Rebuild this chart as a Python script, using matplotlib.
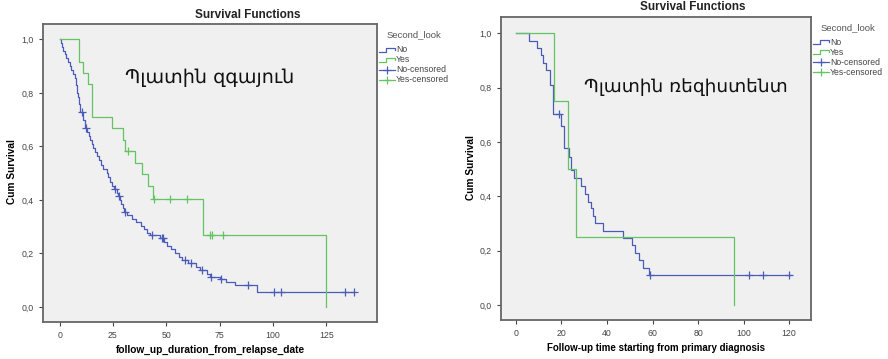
import matplotlib
matplotlib.use("Agg")
from matplotlib import pyplot as plt
from matplotlib.lines import Line2D
import numpy as np

plt.rcParams['font.family'] = ['Liberation Sans', 'DejaVu Sans']

BLUE = '#4a5bb8'
GREEN = '#62c462'
W, H = 888, 359

# left panel: platinum sensitive
left_no_t = [0, 0.5, 1, 1.8, 2.5, 3, 4, 4.8, 5.5, 6.3, 7, 7.5, 8, 8.6, 9.2, 9.6,
             11, 11.9, 12.8, 13.6, 14.2, 15, 15.8, 16.6, 17.5, 18.4, 19.3, 20.5,
             22, 22.8, 23.6, 24.5, 25.4, 27, 27.5, 28.5, 29, 29.5, 30, 31.5, 34,
             36, 38, 39.5, 41, 42.5, 47, 49, 50.5, 52, 54, 56, 57.5, 60, 64, 66,
             69, 70.3, 75, 78, 82, 92.5]
left_no_s = [1.0, 0.986, 0.972, 0.958, 0.944, 0.93, 0.915, 0.9, 0.886, 0.872,
             0.857, 0.83, 0.80, 0.786, 0.757, 0.728, 0.70, 0.67, 0.655, 0.64,
             0.625, 0.61, 0.594, 0.579, 0.563, 0.548, 0.532, 0.516, 0.50, 0.484,
             0.468, 0.452, 0.44, 0.427, 0.413, 0.40, 0.385, 0.37, 0.356, 0.342,
             0.33, 0.317, 0.303, 0.29, 0.277, 0.27, 0.256, 0.242, 0.228, 0.215,
             0.20, 0.188, 0.176, 0.163, 0.15, 0.138, 0.124, 0.111, 0.103, 0.092,
             0.082, 0.057]
left_no_end = 138.1
left_no_cens = [10.3, 12.3, 25.9, 27.9, 30.5, 43.1, 47.8, 48.5, 58.7, 61.4,
                66.6, 71, 75.5, 88.4, 100.5, 103.7, 133.8, 138.1]

left_yes_t = [0, 9.2, 10.8, 13.4, 15.1, 24.4, 29.8, 30.5, 35.3, 38.4, 41.5,
              44.0, 67.3, 124.7]
left_yes_s = [1.0, 0.917, 0.875, 0.833, 0.708, 0.667, 0.625, 0.583, 0.539,
              0.496, 0.452, 0.402, 0.268, 0.0]
left_yes_cens = [32.2, 44.2, 51.7, 59.5, 70.5, 71.2, 76.4]

# right panel: platinum resistant
right_no_t = [0, 5.9, 9.3, 10.8, 12.0, 13.2, 14.9, 16.4, 20, 21.1, 23.4, 24.4,
              25.6, 28.4, 30.3, 31.7, 32.8, 33.7, 34.7, 38.3, 47.1, 51.2, 52.2,
              54.1, 55.6, 58.5]
right_no_s = [1.0, 0.973, 0.946, 0.919, 0.892, 0.865, 0.811, 0.703, 0.66,
              0.576, 0.545, 0.496, 0.466, 0.437, 0.408, 0.38, 0.355, 0.328,
              0.30, 0.273, 0.246, 0.219, 0.192, 0.164, 0.137, 0.109]
right_no_end = 121
right_no_cens = [19, 58.8, 102.4, 108.3, 120]

right_yes_t = [0, 16.7, 22.7, 26.5, 95.7]
right_yes_s = [1.0, 0.75, 0.5, 0.25, 0.0]

y_ticks = [0.0, 0.2, 0.4, 0.6, 0.8, 1.0]
y_ticklabels = ['0,0', '0,2', '0,4', '0,6', '0,8', '1,0']
left_xticks = [0, 25, 50, 75, 100, 125]
right_xticks = [0, 20, 40, 60, 80, 100, 120]
legend_labels = ['No', 'Yes', 'No-censored', 'Yes-censored']


def step_at(ts, ss, t):
    i = np.searchsorted(ts, t, side='right') - 1
    return ss[i]


def draw_km(ax, t, s, color, end=None, cens=()):
    t = list(t)
    s = list(s)
    if end is not None:
        t = t + [end]
        s = s + [s[-1]]
    ax.step(t, s, where='post', color=color, lw=0.9)
    if cens:
        cs = [step_at(t, s, c) for c in cens]
        ax.plot(cens, cs, ls='none', marker='+', ms=6, mew=0.9, color=color)


def style(ax, xticks, xlim, ylim):
    ax.set_facecolor('#f0f0f0')
    for sp in ax.spines.values():
        sp.set_color('#666666')
        sp.set_linewidth(1.3)
    ax.set_xlim(*xlim)
    ax.set_ylim(*ylim)
    ax.set_xticks(xticks)
    ax.set_xticklabels([str(x) for x in xticks])
    ax.set_yticks(y_ticks)
    ax.set_yticklabels(y_ticklabels)
    ax.tick_params(labelsize=6.3, colors='#444444', length=3, width=0.8)


def legend(fig, x0, y0, dy):
    fig.text(x0 / W + 0.008, 1 - y0 / H, 'Second_look', fontsize=6.8,
             color='#555555', va='center')
    lw = 16
    for i, (lab, col) in enumerate(zip(legend_labels, [BLUE, GREEN, BLUE, GREEN])):
        y = y0 + dy * (i + 1) + 5
        if i < 2:
            xs = [x0, x0 + lw * 0.45, x0 + lw * 0.45, x0 + lw, x0 + lw]
            ys = [y + 2, y + 2, y - 2, y - 2, y]
            fig.add_artist(Line2D([v / W for v in xs], [1 - v / H for v in ys],
                                  color=col, lw=0.9, transform=fig.transFigure))
        else:
            fig.add_artist(Line2D([x0 / W, (x0 + lw) / W], [1 - y / H] * 2,
                                  color=col, lw=0.9, transform=fig.transFigure))
            fig.add_artist(Line2D([(x0 + lw / 2) / W], [1 - y / H], color=col,
                                  marker='+', ms=6, mew=0.9, ls='none',
                                  transform=fig.transFigure))
        fig.text((x0 + lw + 1) / W, 1 - y / H, lab, fontsize=6.2,
                 color='#444444', va='center')


fig = plt.figure(figsize=(8.88, 3.59), dpi=100)

ax1 = fig.add_axes([0.0484, 0.103, 0.376, 0.830])
style(ax1, left_xticks, (-7.8, 148.7), (-0.056, 1.057))
draw_km(ax1, left_no_t, left_no_s, BLUE, end=left_no_end, cens=left_no_cens)
draw_km(ax1, left_yes_t, left_yes_s, GREEN, cens=left_yes_cens)
ax1.text(0.5, 0.82, 'Պլատին զգայուն', transform=ax1.transAxes, ha='center',
         va='center', fontsize=13.8, family=['DejaVu Sans'], color='#111111')

ax2 = fig.add_axes([0.5638, 0.1086, 0.350, 0.843])
style(ax2, right_xticks, (-6.7, 129.8), (-0.056, 1.059))
draw_km(ax2, right_no_t, right_no_s, BLUE, end=right_no_end, cens=right_no_cens)
draw_km(ax2, right_yes_t, right_yes_s, GREEN)
ax2.text(0.597, 0.77, 'Պլատին ռեզիստենտ', transform=ax2.transAxes, ha='center',
         va='center', fontsize=13.3, family=['DejaVu Sans'], color='#111111')

# axis titles placed in figure pixels
fig.text(210 / W, 1 - 350 / H, 'follow_up_duration_from_relapse_date',
         ha='center', va='center', fontsize=7.3, fontweight='bold')
fig.text(12 / W, 1 - 172 / H, 'Cum Survival', ha='center', va='center',
         rotation=90, fontsize=7.3, fontweight='bold')
fig.text(656 / W, 1 - 348 / H, 'Follow-up time starting from primary diagnosis',
         ha='center', va='center', fontsize=7.0, fontweight='bold')
fig.text(471 / W, 1 - 168 / H, 'Cum Survival', ha='center', va='center',
         rotation=90, fontsize=7.3, fontweight='bold')

fig.text(248 / W, 1 - 15 / H, 'Survival Functions', ha='center',
         va='center', fontsize=8.5, fontweight='bold', color='#222222')
fig.text(692.7 / W, 1 - 7.3 / H, 'Survival Functions', ha='center',
         va='center', fontsize=8.5, fontweight='bold', color='#222222')

legend(fig, 379, 35, 10)
legend(fig, 813, 27.3, 10)

fig.savefig('out.png', dpi=100)
